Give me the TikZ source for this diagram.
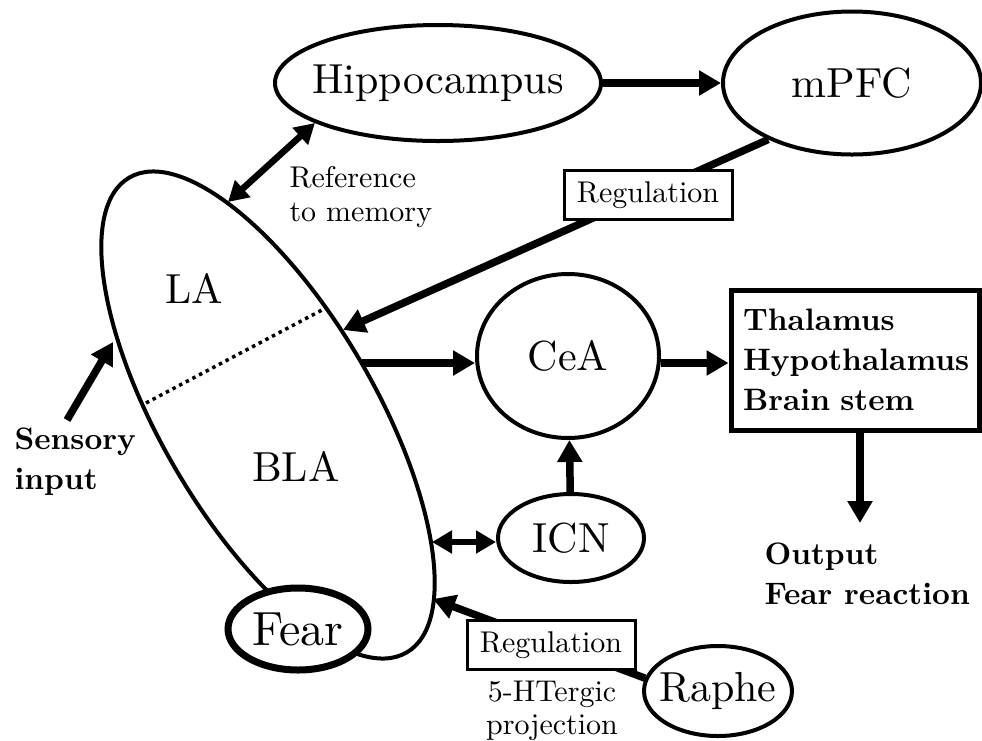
\documentclass[tikz,border=0pt]{standalone}
\usepackage{fontspec}
\setmainfont{lmroman10-regular}[Extension=.otf,BoldFont=lmroman10-bold]
\usetikzlibrary{shapes.geometric,arrows.meta}
\begin{document}
\begin{tikzpicture}[x=1pt,y=-1pt,
  ell/.style={ellipse,draw,line width=4pt,inner sep=0pt,font=\fontsize{42}{50}\selectfont},
  lbl/.style={font=\fontsize{42}{50}\selectfont},
  small/.style={font=\fontsize{30}{34}\selectfont,align=left},
  boldt/.style={font=\fontsize{31}{40}\selectfont\bfseries,align=left},
  regbox/.style={draw,line width=3pt,fill=white,minimum width=168pt,minimum height=49pt,inner sep=0pt,font=\fontsize{30}{34}\selectfont},
  arr/.style={line width=7.5pt,-{Triangle[length=22pt,width=24pt]}},
  darr/.style={line width=6.5pt,{Triangle[length=20pt,width=22pt]}-{Triangle[length=20pt,width=22pt]}}
]
\useasboundingbox (0,0) rectangle (982,740);

% nodes
\node[ell,minimum width=326pt,minimum height=116pt] (hip) at (438,83) {\makebox[0pt]{Hippocampus}};
\node[ell,minimum width=258pt,minimum height=143pt] (mpfc) at (852,83) {\makebox[0pt]{mPFC}};
\node[ell,minimum width=182pt,minimum height=164pt] (cea) at (568,356) {\makebox[0pt]{CeA}};
\node[ell,minimum width=146pt,minimum height=88pt] (icn) at (571,538) {\makebox[0pt]{ICN}};
\node[ell,minimum width=148pt,minimum height=90pt] (raphe) at (718,691) {\makebox[0pt]{Raphe}};
\node[ellipse,draw,line width=4pt,minimum width=550pt,minimum height=214pt,rotate=-59.7] (amyg) at (268,415) {};
\node[ell,line width=7pt,fill=white,minimum width=140pt,minimum height=82pt,font=\fontsize{48}{56}\selectfont] (fear) at (298,629) {\makebox[0pt]{Fear}};

\node[lbl] (la) at (194,288) {LA};
\node[lbl] (bla) at (296,466) {BLA};

\node[draw,line width=5pt,minimum width=248pt,minimum height=140pt,text width=224pt,inner xsep=12pt,inner ysep=0pt,boldt] (box) at (855,360) {Thalamus\\Hypothalamus\\Brain stem};

\node[small,anchor=west] (ref) at (286,197) {Reference\\to memory};
\node[boldt,anchor=west] (sens) at (11,462) {Sensory\\input};
\node[boldt,anchor=west] (out) at (761,574) {Output\\Fear reaction};
\node[font=\fontsize{30}{33}\selectfont,align=center] (proj) at (552,711) {5-HTergic\\projection};

% coordinates on the amygdala outline
\coordinate (hA) at (228,202);
\coordinate (regA) at (343,330);
\coordinate (ceaA) at (362,363);
\coordinate (icnA) at (432,542);
\coordinate (regB) at (433,599);
\coordinate (sensA) at (67,420);
\coordinate (sensB) at (113,342);
\coordinate (d1) at (146,403);
\coordinate (d2) at (322,310);
\coordinate (outc) at (860,523);

% connectors
\draw[arr] (hip.east) -- (hip.east -| mpfc.west);
\draw[darr] (hip.198) -- (hA);
\draw[arr] (mpfc.214) -- (regA);
\node[regbox] (reg1) at (648,195) {Regulation};
\draw[arr] (ceaA) -- (ceaA -| cea.west);
\draw[arr] (cea.east |- 0,363) -- (box.west |- 0,363);
\draw[arr] (icn) -- (cea);
\draw[darr] (icnA) -- (icnA -| icn.west);
\draw[arr] (raphe.170) -- (regB);
\node[regbox] (reg2) at (551,645) {Regulation};
\draw[arr] (box.south -| outc) -- (outc);
\draw[arr] (sensA) -- (sensB);
\draw[line width=3.5pt,dash pattern=on 3.5pt off 4pt] (d1) -- (d2);
\end{tikzpicture}
\end{document}
